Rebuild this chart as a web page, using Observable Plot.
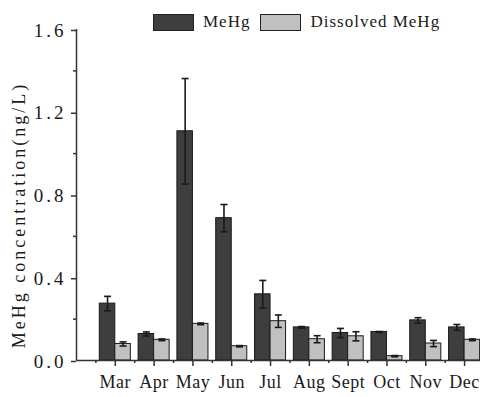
<!DOCTYPE html>
<html>
<head>
<meta charset="utf-8">
<script src="https://cdn.jsdelivr.net/npm/d3@7"></script>
<script src="https://cdn.jsdelivr.net/npm/@observablehq/plot@0.6"></script>
<style>
  body { margin: 0; background: #fff; }
  #chart { position: relative; width: 480px; height: 397px; font-family: "Liberation Serif", "Times New Roman", serif; color: #1a1a1a; }
  #chart svg { position: absolute; left: 0; top: 0; font-family: "Liberation Serif", "Times New Roman", serif; }
  .legend { position: absolute; top: 12px; left: 153px; display: flex; align-items: center; font-size: 17px; letter-spacing: 1px; white-space: nowrap; }
  .legend .item { display: flex; align-items: center; margin-right: 10px; }
  .legend .swatch { width: 39px; height: 15px; border: 1px solid #222; margin-right: 9px; }
  g[aria-label="y-axis tick label"] text { letter-spacing: 3px; }
  g[aria-label="x-axis tick label"] text { letter-spacing: 0.5px; }
  .ylabel text { letter-spacing: 3px; }
</style>
</head>
<body>
<div id="chart"></div>
<script>
// Monthly MeHg concentrations (ng/L), means with error (±)
const months = ["Mar", "Apr", "May", "Jun", "Jul", "Aug", "Sept", "Oct", "Nov", "Dec"];
const monthIndex = [3, 4, 5, 6, 7, 8, 9, 10, 11, 12];
const mehg = [0.275, 0.128, 1.108, 0.688, 0.32, 0.16, 0.133, 0.138, 0.194, 0.16];
const mehgErr = [0.035, 0.01, 0.255, 0.066, 0.067, 0.004, 0.022, 0.002, 0.013, 0.014];
const dissolved = [0.08, 0.10, 0.177, 0.069, 0.19, 0.103, 0.117, 0.021, 0.082, 0.10];
const dissolvedErr = [0.01, 0.004, 0.004, 0.003, 0.03, 0.017, 0.022, 0.003, 0.015, 0.004];
const yTicks = [0, 0.4, 0.8, 1.2, 1.6];
const yMinorTicks = [0.2, 0.6, 1.0, 1.4];
const xMinorTicks = [2.5, 3.5, 4.5, 5.5, 6.5, 7.5, 8.5, 9.5, 10.5, 11.5];

const seriesNames = ["MeHg", "Dissolved MeHg"];
const seriesColors = ["#3e3e3e", "#c0c0c0"];

const barW = 0.4;   // bar width in month units
const capW = 0.09;  // half-width of error-bar caps

const rows = months.map((name, i) => ({
  name, m: monthIndex[i],
  mehg: mehg[i], mehgErr: mehgErr[i],
  dissolved: dissolved[i], dissolvedErr: dissolvedErr[i]
}));

const ink = "#1a1a1a";
const axisInk = "#333";

function errorMarks(key, errKey, center) {
  return [
    Plot.ruleX(rows, {x: center, y1: d => d[key] - d[errKey], y2: d => d[key] + d[errKey], stroke: ink, strokeWidth: 1.6}),
    Plot.link(rows, {x1: d => center(d) - capW, x2: d => center(d) + capW, y1: d => d[key] + d[errKey], y2: d => d[key] + d[errKey], stroke: ink, strokeWidth: 1.6}),
    Plot.link(rows, {x1: d => center(d) - capW, x2: d => center(d) + capW, y1: d => d[key] - d[errKey], y2: d => d[key] - d[errKey], stroke: ink, strokeWidth: 1.6})
  ];
}

const chart = Plot.plot({
  width: 480,
  height: 397,
  marginLeft: 76,
  marginRight: 0,
  marginTop: 29,
  marginBottom: 37,
  style: {fontFamily: '"Liberation Serif", serif', color: ink, background: "transparent"},
  x: {domain: [2, 12.41], axis: null},
  y: {domain: [0, 1.6], axis: null},
  marks: [
    Plot.rectY(rows, {x1: d => d.m - barW, x2: d => d.m, y: "mehg", fill: seriesColors[0], stroke: ink, strokeWidth: 1}),
    Plot.rectY(rows, {x1: d => d.m, x2: d => d.m + barW, y: "dissolved", fill: seriesColors[1], stroke: ink, strokeWidth: 1}),
    ...errorMarks("mehg", "mehgErr", d => d.m - barW / 2),
    ...errorMarks("dissolved", "dissolvedErr", d => d.m + barW / 2),
    // y axis
    Plot.axisY({ticks: yTicks, tickFormat: d => d.toFixed(1), tickSize: 5, tickPadding: 5, fontSize: 19, dy: 1, label: null, stroke: axisInk, strokeWidth: 1.5}),
    Plot.axisY({ticks: yMinorTicks, tickFormat: () => "", tickSize: 3, label: null, stroke: axisInk, strokeWidth: 1.5}),
    // x axis
    Plot.axisX({ticks: monthIndex, tickFormat: d => months[monthIndex.indexOf(d)], tickSize: 6, tickPadding: 9, fontSize: 18, label: null, stroke: axisInk, strokeWidth: 1.5}),
    Plot.axisX({ticks: xMinorTicks, tickFormat: () => "", tickSize: 3, label: null, stroke: axisInk, strokeWidth: 1.5}),
    Plot.ruleX([2], {y1: 0, y2: 1.6, stroke: axisInk, strokeWidth: 1.5}),
    Plot.ruleY([0], {stroke: axisInk, strokeWidth: 1.5}),
    Plot.text(["MeHg concentration(ng/L)"], {frameAnchor: "left", textAnchor: "middle", rotate: -90, dx: -57, dy: 20, fontSize: 18, fill: ink, className: "ylabel"})
  ]
});

const root = document.getElementById("chart");
root.appendChild(chart);

// Legend above the plot area
const legend = document.createElement("div");
legend.className = "legend";
seriesNames.forEach((name, i) => {
  const item = document.createElement("div");
  item.className = "item";
  const sw = document.createElement("span");
  sw.className = "swatch";
  sw.style.background = seriesColors[i];
  const label = document.createElement("span");
  label.textContent = name;
  item.appendChild(sw);
  item.appendChild(label);
  legend.appendChild(item);
});
root.appendChild(legend);
</script>
</body>
</html>
